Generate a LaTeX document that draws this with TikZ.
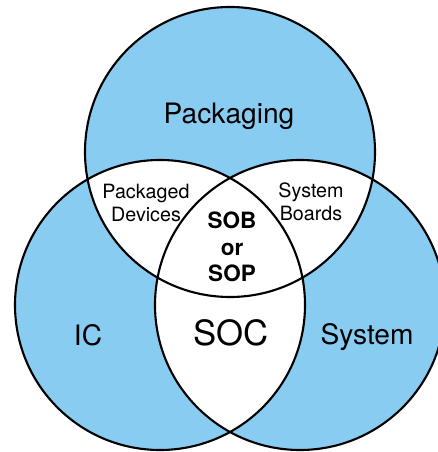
\documentclass[tikz,border=0pt]{standalone}
\usepackage{fontspec}
\setmainfont{TeX Gyre Heros}
\definecolor{vnBlue}{HTML}{88CCF2}
\tikzset{
  vnring/.style={draw=black, line width=1.5pt},
  vnbig/.style={font=\fontsize{20}{24}\selectfont, inner sep=0pt},
  vnhuge/.style={font=\fontsize{24.7}{29}\selectfont, inner sep=0pt},
  vnsmall/.style={font=\fontsize{14}{16.5}\selectfont, align=center, inner sep=0pt},
  vncore/.style={font=\bfseries\fontsize{16}{19}\selectfont, align=center, inner sep=0pt}
}

\begin{document}
\begin{tikzpicture}[x=0.025cm, y=0.025cm]
  \useasboundingbox (0,0) rectangle (438,452);
  \clip (0,0) rectangle (438,452);
  \coordinate (cTop) at (230,300);
  \coordinate (cLeft) at (160,147);
  \coordinate (cRight) at (300,147);
  % blue discs
  \fill[vnBlue] (cTop) circle (145);
  \fill[vnBlue] (cLeft) circle (145);
  \fill[vnBlue] (cRight) circle (145);
  % white overlaps
  \begin{scope}
    \clip (cTop) circle (145);
    \fill[white] (cLeft) circle (145);
    \fill[white] (cRight) circle (145);
  \end{scope}
  \begin{scope}
    \clip (cLeft) circle (145);
    \fill[white] (cRight) circle (145);
  \end{scope}
  % outlines
  \draw[vnring] (cTop) circle (145);
  \draw[vnring] (cLeft) circle (145);
  \draw[vnring] (cRight) circle (145);
  % labels
  \node[vnbig] (packaging) at (229,336) {Packaging};
  \node[vnsmall] (pkgdev) at (146,249) {Packaged\\Devices};
  \node[vnsmall] (sysboard) at (311,250) {System\\Boards};
  \node[vncore] (sob) at (232,205) {SOB\\or\\SOP};
  \node[vnbig] (ic) at (88,117) {IC};
  \node[vnhuge] (soc) at (231,119) {SOC};
  \node[vnbig] (system) at (367,115) {System};
\end{tikzpicture}
\end{document}
